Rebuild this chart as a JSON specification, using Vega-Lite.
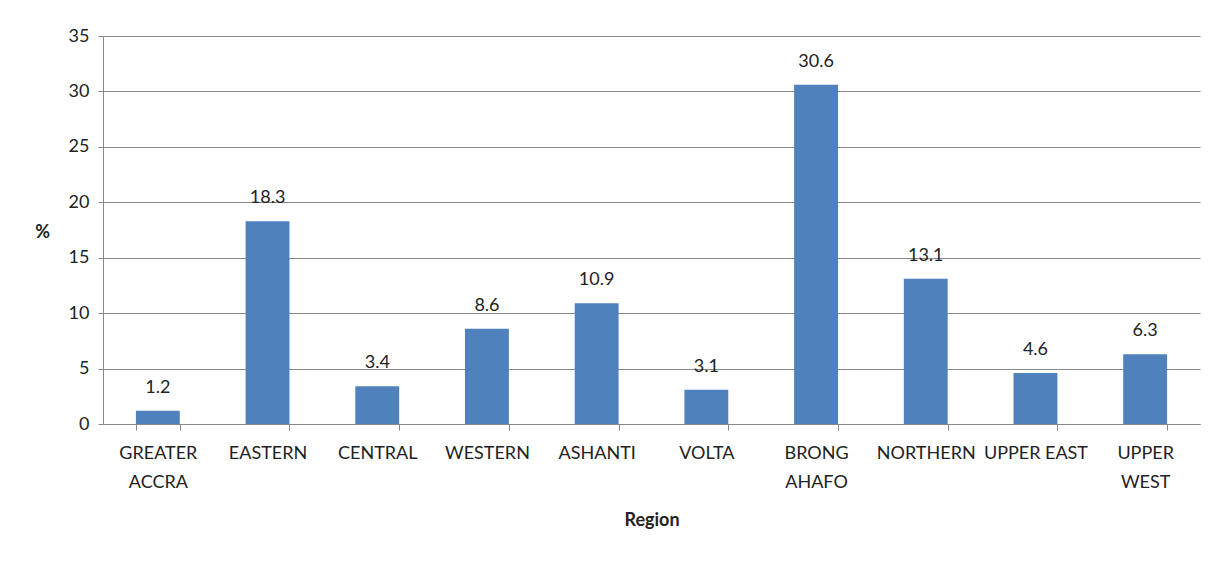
{
  "$schema": "https://vega.github.io/schema/vega-lite/v6.json",
  "width": 1097,
  "height": 388,
  "autosize": {"type": "none"},
  "padding": {"left": 103, "top": 36, "right": 14, "bottom": 164},
  "background": "white",
  "config": {
    "view": {"stroke": null},
    "font": "Lato",
    "axis": {"labelFont": "Lato", "titleFont": "Lato", "labelColor": "#222", "titleColor": "#222"}
  },
  "data": {
    "values": [
      {"region": "GREATER|ACCRA", "value": 1.2},
      {"region": "EASTERN", "value": 18.3},
      {"region": "CENTRAL", "value": 3.4},
      {"region": "WESTERN", "value": 8.6},
      {"region": "ASHANTI", "value": 10.9},
      {"region": "VOLTA", "value": 3.1},
      {"region": "BRONG|AHAFO", "value": 30.6},
      {"region": "NORTHERN", "value": 13.1},
      {"region": "UPPER EAST", "value": 4.6},
      {"region": "UPPER|WEST", "value": 6.3}
    ]
  },
  "encoding": {
    "x": {
      "field": "region",
      "type": "nominal",
      "sort": null,
      "scale": {"paddingInner": 0.6, "paddingOuter": 0.3},
      "axis": {
        "title": "Region",
        "titleFontSize": 18,
        "titleFontWeight": "bold",
        "titleY": 87,
        "labelAngle": 0,
        "labelFontSize": 18,
        "labelLineHeight": 29,
        "labelPadding": 14,
        "labelExpr": "split(datum.label, '|')",
        "tickBand": "extent",
        "tickSize": 6,
        "tickColor": "#888",
        "domainColor": "#888",
        "grid": false
      }
    },
    "y": {
      "field": "value",
      "type": "quantitative",
      "scale": {"domain": [0, 35]},
      "axis": {
        "title": "%",
        "titleAngle": 0,
        "titleFontSize": 18,
        "titleFontWeight": "bold",
        "titleX": -61,
        "titleY": 196,
        "titleAlign": "center",
        "titleBaseline": "middle",
        "values": [0, 5, 10, 15, 20, 25, 30, 35],
        "labelFontSize": 18,
        "labelPadding": 9,
        "tickSize": 5,
        "tickColor": "#888",
        "domainColor": "#888",
        "gridColor": "#888",
        "gridOpacity": 1
      }
    }
  },
  "layer": [
    {"mark": {"type": "bar", "color": "#4F81BD"}},
    {
      "mark": {"type": "text", "baseline": "bottom", "dy": -14, "fontSize": 18, "color": "#222", "font": "Lato"},
      "encoding": {"text": {"field": "value", "type": "quantitative", "format": ".1f"}}
    }
  ]
}
